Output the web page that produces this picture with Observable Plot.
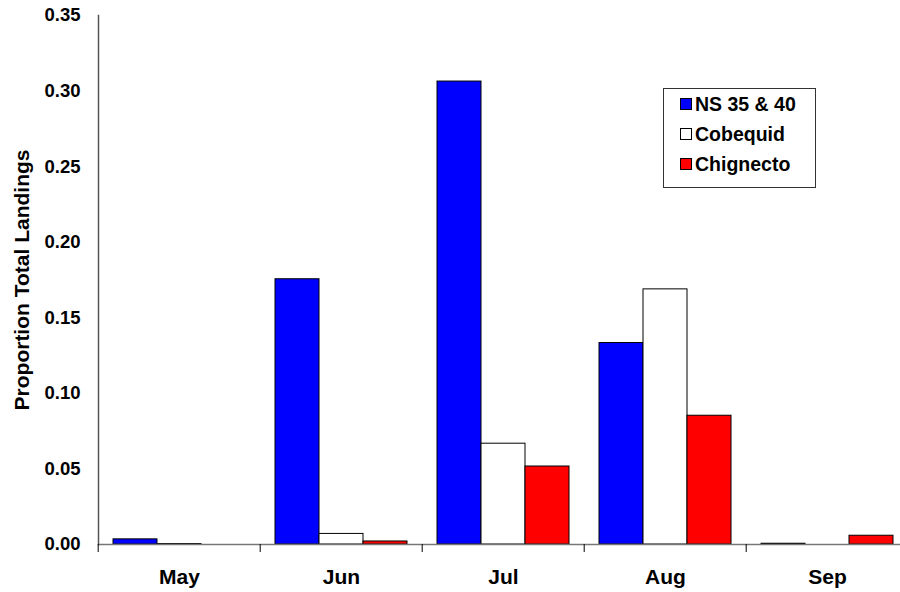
<!DOCTYPE html>
<html>
<head>
<meta charset="utf-8">
<script src="https://cdn.jsdelivr.net/npm/d3@7"></script>
<script src="https://cdn.jsdelivr.net/npm/@observablehq/plot@0.6"></script>
<style>
  html, body { margin: 0; padding: 0; background: #fff; overflow: hidden; }
  #chart { position: relative; width: 900px; height: 592px; }
  #chart svg.plot { max-width: none; overflow: visible; }
  .legend { position: absolute; left: 663px; top: 88px; width: 153px; height: 100px;
    border: 1px solid #333; background: #fff; box-sizing: border-box;
    font-family: "Liberation Sans", Arial, sans-serif; font-weight: bold; font-size: 19.5px; }
  .legend .item { position: absolute; left: 16px; display: flex; align-items: center; line-height: 22px; }
  .legend .sw { width: 12px; height: 12px; border: 1px solid #000; margin-right: 3px; box-sizing: border-box; }
</style>
</head>
<body>
<div id="chart"></div>
<script>
const months = ["May", "Jun", "Jul", "Aug", "Sep"];
const series = ["NS 35 & 40", "Cobequid", "Chignecto"];
const colors = ["#0000ff", "#ffffff", "#ff0000"];
const ns3540    = [0.0034, 0.1755, 0.3063, 0.1333, 0.0005];
const cobequid  = [0.0003, 0.0070, 0.0667, 0.1688, 0.0000];
const chignecto = [0.0000, 0.0020, 0.0516, 0.0852, 0.0058];
const yTicks = [0, 0.05, 0.10, 0.15, 0.20, 0.25, 0.30, 0.35];

const valuesBySeries = [ns3540, cobequid, chignecto];
const data = [];
months.forEach((m, i) => series.forEach((s, j) => data.push({month: m, series: s, value: valuesBySeries[j][i]})));

const W = 900, H = 592;
const mL = 96, mR = -9, mT = 15, mB = 48;
const step = (W - mL - mR) / months.length;
const font = "'Liberation Sans', Arial, sans-serif";

const chart = Plot.plot({
  width: W, height: H,
  marginLeft: mL, marginRight: mR, marginTop: mT, marginBottom: mB,
  style: {fontFamily: font, fontWeight: "bold", background: "#fff", overflow: "visible"},
  fx: {domain: months, padding: 0},
  x: {domain: series, paddingInner: 0, paddingOuter: 0.335, axis: null},
  y: {domain: [0, 0.35], axis: null},
  color: {domain: series, range: colors},
  marks: [
    Plot.barY(data, {fx: "month", x: "series", y: "value", fill: "series", stroke: "#000", strokeWidth: 1}),
    Plot.ruleY([0], {stroke: "#777", strokeWidth: 1.5}),
    Plot.frame({anchor: "left", facetAnchor: "left", stroke: "#555", strokeWidth: 1.5}),
    Plot.axisY({ticks: yTicks, tickFormat: d3.format(".2f"), tickSize: 7, tickPadding: 11,
      fontSize: 18.5, fill: "#000", stroke: null, facetAnchor: "left",
      label: "Proportion Total Landings", labelAnchor: "center", labelArrow: "none", labelOffset: 84}),
    Plot.axisFx({anchor: "bottom", tickSize: 8, tickFormat: () => "", dx: -step / 2, label: null}),
    Plot.axisFx({anchor: "bottom", tickSize: 0, tickPadding: 25, fontSize: 21, label: null})
  ]
});
document.getElementById("chart").appendChild(chart);

// bigger axis title
chart.querySelectorAll("text").forEach(t => {
  if (t.textContent === "Proportion Total Landings") t.setAttribute("font-size", 21);
});

// legend
const leg = document.createElement("div");
leg.className = "legend";
series.forEach((s, j) => {
  const it = document.createElement("div");
  it.className = "item";
  it.style.top = (4 + j * 30) + "px";
  const sw = document.createElement("span");
  sw.className = "sw";
  sw.style.background = colors[j];
  const tx = document.createElement("span");
  tx.textContent = s;
  it.appendChild(sw); it.appendChild(tx);
  leg.appendChild(it);
});
document.getElementById("chart").appendChild(leg);
</script>
</body>
</html>
